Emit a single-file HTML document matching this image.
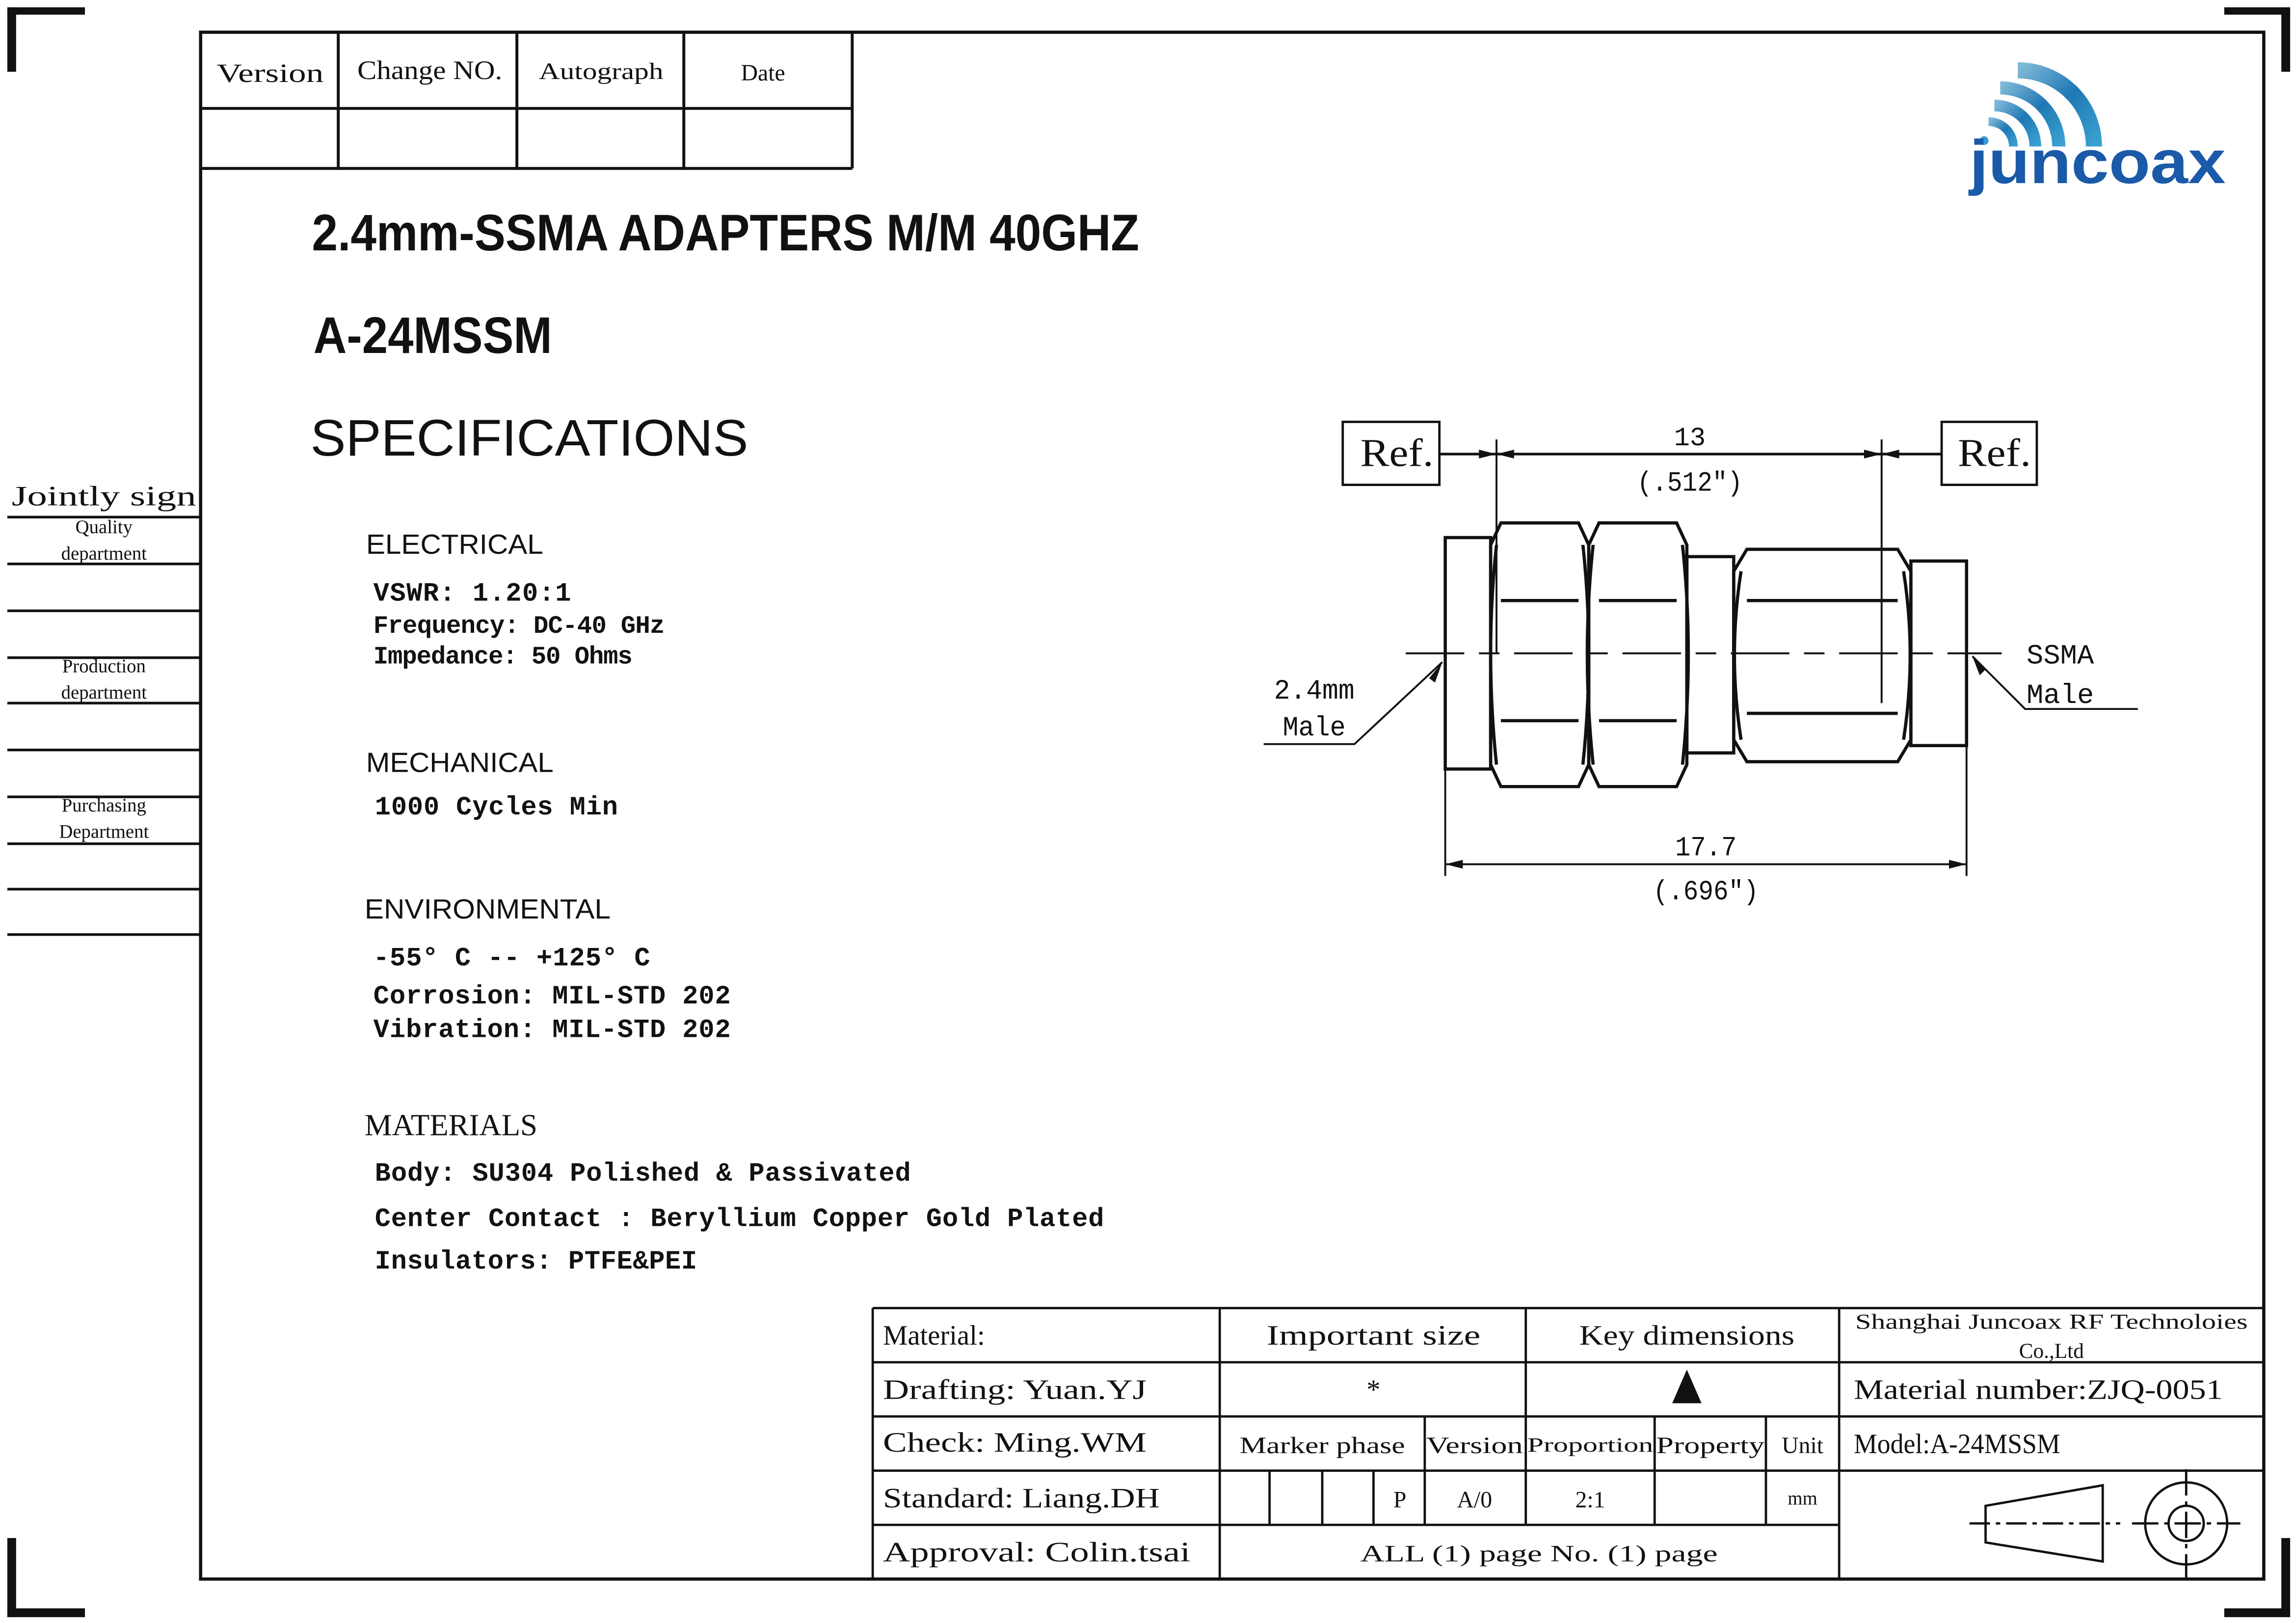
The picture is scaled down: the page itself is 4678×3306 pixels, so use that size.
<!DOCTYPE html>
<html><head><meta charset="utf-8"><style>
html,body{margin:0;padding:0;background:#fff;}
svg{display:block;}
.s{font-family:"Liberation Serif","Noto Serif CJK SC",serif;}
.m{font-family:"Liberation Mono","Noto Sans CJK SC",monospace;}
.a{font-family:"Liberation Sans","Noto Sans CJK SC",sans-serif;}
</style></head><body>
<svg width="4678" height="3306" viewBox="0 0 1568 1108" preserveAspectRatio="none" xmlns="http://www.w3.org/2000/svg">
<defs><linearGradient id="g" x1="0" y1="0" x2="1" y2="1"><stop offset="0" stop-color="#7fb8d8"/><stop offset="0.5" stop-color="#1f78b4"/><stop offset="1" stop-color="#3aa0d0"/></linearGradient></defs>
<rect width="1568" height="1108" fill="#fff"/>
<g fill="#111">
<rect x="5" y="5" width="6" height="44"/><rect x="5" y="5" width="53" height="5"/>
<rect x="1558" y="5" width="6" height="44"/><rect x="1519" y="5" width="45" height="5"/>
<rect x="5" y="1050" width="6" height="54"/><rect x="5" y="1098" width="53" height="6"/>
<rect x="1558" y="1050" width="6" height="54"/><rect x="1519" y="1098" width="45" height="6"/>
</g>
<g stroke="#111" fill="none">
<rect x="137" y="22" width="1409" height="1056" stroke-width="2.2"/>
<path d="M137 74H582M137 115H582M582 22V115M231 22V115M353 22V115M467 22V115" stroke-width="2"/>
<path d="M5 353H137M5 385H137M5 417H137M5 449H137M5 480H137M5 512H137M5 544H137M5 576H137M5 607H137M5 638H137" stroke-width="1.8"/>
<path d="M596 893H1546M596 893V1078M596 930H1546M596 967H1546M596 1004H1546M596 1041H1256M833 893V1078M1042 893V1041M1256 893V1078M973 967V1041M1130 967V1041M1206 967V1041M867 1004V1041M903 1004V1041M938 1004V1041" stroke-width="1.6"/>
</g>
<g class="s" fill="#111" font-size="18">
<text x="148" y="56" textLength="73" lengthAdjust="spacingAndGlyphs">Version</text>
<text x="244" y="54" textLength="99" lengthAdjust="spacingAndGlyphs">Change  NO.</text>
<text x="368" y="54" textLength="85" font-size="16" lengthAdjust="spacingAndGlyphs">Autograph</text>
<text x="506" y="55" font-size="16">Date</text>
<text x="8" y="345" font-size="19" textLength="126" lengthAdjust="spacingAndGlyphs">Jointly sign</text>
<g font-size="13" text-anchor="middle">
<text x="71" y="364">Quality</text><text x="71" y="382">department</text>
<text x="71" y="459">Production</text><text x="71" y="477">department</text>
<text x="71" y="554">Purchasing</text><text x="71" y="572">Department</text>
</g>
</g>
<g class="a" fill="#111">
<text x="213" y="171" font-size="35" font-weight="bold" textLength="565" lengthAdjust="spacingAndGlyphs">2.4mm-SSMA ADAPTERS  M/M 40GHZ</text>
<text x="214" y="241" font-size="35" font-weight="bold" textLength="163" lengthAdjust="spacingAndGlyphs">A-24MSSM</text>
<text x="212" y="311" font-size="35" textLength="299" lengthAdjust="spacingAndGlyphs">SPECIFICATIONS</text>
<text x="250" y="378" font-size="19" textLength="121" lengthAdjust="spacingAndGlyphs">ELECTRICAL</text>
<text x="250" y="527" font-size="19" textLength="128" lengthAdjust="spacingAndGlyphs">MECHANICAL</text>
<text x="249" y="627" font-size="19" textLength="168" lengthAdjust="spacingAndGlyphs">ENVIRONMENTAL</text>
</g>
<g class="m" fill="#111" font-size="18" font-weight="bold">
<text x="255" y="410" textLength="135">VSWR:  1.20:1</text>
<text x="255" y="432" font-size="17" textLength="199">Frequency: DC-40 GHz</text>
<text x="255" y="453" font-size="17" textLength="177">Impedance: 50 Ohms</text>
<text x="256" y="556" textLength="166">1000 Cycles Min</text>
<text x="255" y="659" textLength="189">-55° C -- +125° C</text>
<text x="255" y="685" textLength="244">Corrosion: MIL-STD 202</text>
<text x="255" y="708" textLength="244">Vibration: MIL-STD 202</text>
<text x="249" y="775" font-size="21" textLength="118" font-weight="normal" class="s" lengthAdjust="spacingAndGlyphs">MATERIALS</text>
<text x="256" y="806" textLength="366">Body: SU304 Polished &amp; Passivated</text>
<text x="256" y="837" textLength="498">Center Contact : Beryllium Copper Gold Plated</text>
<text x="256" y="866" textLength="220">Insulators: PTFE&amp;PEI</text>
</g>
<g class="s" fill="#111" font-size="19">
<text x="603" y="918">Material:</text>
<text x="603" y="955" textLength="180" lengthAdjust="spacingAndGlyphs">Drafting: Yuan.YJ</text>
<text x="603" y="991" textLength="180" lengthAdjust="spacingAndGlyphs">Check:      Ming.WM</text>
<text x="603" y="1029" textLength="189" lengthAdjust="spacingAndGlyphs">Standard: Liang.DH</text>
<text x="603" y="1066" textLength="210" lengthAdjust="spacingAndGlyphs">Approval: Colin.tsai</text>
<text x="938" y="918" text-anchor="middle" textLength="146" lengthAdjust="spacingAndGlyphs">Important size</text>
<text x="1152" y="918" text-anchor="middle" textLength="147" lengthAdjust="spacingAndGlyphs">Key dimensions</text>
<text x="938" y="955" text-anchor="middle">*</text>
<text x="903" y="992" text-anchor="middle" font-size="16" textLength="113" lengthAdjust="spacingAndGlyphs">Marker phase</text>
<text x="1007" y="992" text-anchor="middle" font-size="16" textLength="66" lengthAdjust="spacingAndGlyphs">Version</text>
<text x="1086" y="991" text-anchor="middle" font-size="14" textLength="86" lengthAdjust="spacingAndGlyphs">Proportion</text>
<text x="1168" y="992" text-anchor="middle" font-size="16" textLength="74" lengthAdjust="spacingAndGlyphs">Property</text>
<text x="1231" y="992" text-anchor="middle" font-size="16">Unit</text>
<text x="956" y="1029" text-anchor="middle" font-size="16">P</text>
<text x="1007" y="1029" text-anchor="middle" font-size="16">A/0</text>
<text x="1086" y="1029" text-anchor="middle" font-size="16">2:1</text>
<text x="1231" y="1027" text-anchor="middle" font-size="13">mm</text>
<text x="1051" y="1066" text-anchor="middle" font-size="16" textLength="244" lengthAdjust="spacingAndGlyphs">ALL (1) page    No. (1) page</text>
<text x="1401" y="907" text-anchor="middle" font-size="14.5" textLength="268" lengthAdjust="spacingAndGlyphs">Shanghai Juncoax RF Technoloies</text>
<text x="1401" y="927" text-anchor="middle" font-size="14.5">Co.,Ltd</text>
<text x="1266" y="955" textLength="252" lengthAdjust="spacingAndGlyphs">Material number:ZJQ-0051</text>
<text x="1266" y="992" textLength="141" lengthAdjust="spacingAndGlyphs">Model:A-24MSSM</text>
</g>
<polygon points="1152,935 1162,958 1142,958" fill="#111"/>
<g stroke="#111" fill="none" stroke-width="1.6">
<polygon points="1356,1028 1436,1014 1436,1066 1356,1053"/>
<path d="M1345 1040H1448" stroke-dasharray="14,4,3,4"/>
<circle cx="1493" cy="1040" r="28"/><circle cx="1493" cy="1040" r="12"/>
<path d="M1456 1040H1530M1493 1003V1077" stroke-dasharray="18,4,3,4"/>
</g>
<!-- logo -->
<g fill="none" stroke="url(#g)">
<path d="M1378 48 A52 52 0 0 1 1430 100" stroke-width="11"/>
<path d="M1366 60 A40 40 0 0 1 1406 100" stroke-width="9"/>
<path d="M1362 72 A28 28 0 0 1 1390 100" stroke-width="8"/>
<path d="M1358 83 A17 17 0 0 1 1375 100" stroke-width="6"/>
</g>
<circle cx="1355" cy="96" r="3" fill="#3a9ad8"/>
<text x="1345" y="125" class="a" font-size="42" font-weight="bold" fill="#1a5aa8" textLength="175" lengthAdjust="spacingAndGlyphs">juncoax</text>
<!-- drawing -->
<g stroke="#111" fill="none" stroke-width="2.2">
<rect x="987" y="367" width="31" height="158"/>
<path d="M1025 357H1078L1085 372L1085 522L1078 537H1025L1018 522V372Z"/>
<path d="M1092 357H1145L1152 372L1152 522L1145 537H1092L1085 522V372Z"/>
<path d="M1025 410H1078M1025 492H1078M1092 410H1145M1092 492H1145"/>
<path d="M1022 372Q1014 446 1022 522M1081 372Q1089 446 1081 522M1088 372Q1080 446 1088 522M1149 372Q1157 446 1149 522"/>
<rect x="1152" y="380" width="32" height="134"/>
<path d="M1193 375H1296L1305 390V505L1296 520H1193L1184 505V390Z"/>
<path d="M1193 410H1296M1193 487H1296"/>
<path d="M1189 390Q1180 447 1189 505M1300 390Q1309 447 1300 505"/>
<rect x="1305" y="383" width="38" height="126"/>
</g>
<g stroke="#111" stroke-width="1.3" fill="none">
<path d="M960 446H1367" stroke-dasharray="40,10,14,10"/>
<rect x="917" y="288" width="66" height="43" stroke-width="1.6"/>
<rect x="1326" y="288" width="65" height="43" stroke-width="1.6"/>
<path d="M983 310H1326" stroke-width="1.8"/>
<path d="M1022 300V446M1285 300V480"/>
<path d="M987 525V598M1343 509V598M987 590H1343"/>
<path d="M985 452L925 508H863M1347 448L1383 484H1460"/>
</g>
<g fill="#111">
<polygon points="1022,310 1010,307 1010,313"/><polygon points="1022,310 1034,307 1034,313"/>
<polygon points="1285,310 1273,307 1273,313"/><polygon points="1285,310 1297,307 1297,313"/>
<polygon points="987,590 999,587 999,593"/><polygon points="1343,590 1331,587 1331,593"/>
<polygon points="985,452 976,463 980,466"/><polygon points="1347,448 1352,461 1356,457"/>
</g>
<g class="m" fill="#111" font-size="19">
<text x="929" y="318" font-size="27" class="s" textLength="50" lengthAdjust="spacingAndGlyphs">Ref.</text>
<text x="1337" y="318" font-size="27" class="s" textLength="50" lengthAdjust="spacingAndGlyphs">Ref.</text>
<text x="1154" y="304" text-anchor="middle" font-size="18">13</text>
<text x="1154" y="335" text-anchor="middle" textLength="72" lengthAdjust="spacingAndGlyphs">(.512″)</text>
<text x="1165" y="584" text-anchor="middle" textLength="42" lengthAdjust="spacingAndGlyphs">17.7</text>
<text x="1165" y="614" text-anchor="middle" textLength="72" lengthAdjust="spacingAndGlyphs">(.696″)</text>
<text x="870" y="477" textLength="55" lengthAdjust="spacingAndGlyphs">2.4mm</text>
<text x="876" y="502" textLength="43" lengthAdjust="spacingAndGlyphs">Male</text>
<text x="1384" y="453" textLength="46" lengthAdjust="spacingAndGlyphs">SSMA</text>
<text x="1384" y="480" textLength="46" lengthAdjust="spacingAndGlyphs">Male</text>
</g>
</svg>
</body></html>
